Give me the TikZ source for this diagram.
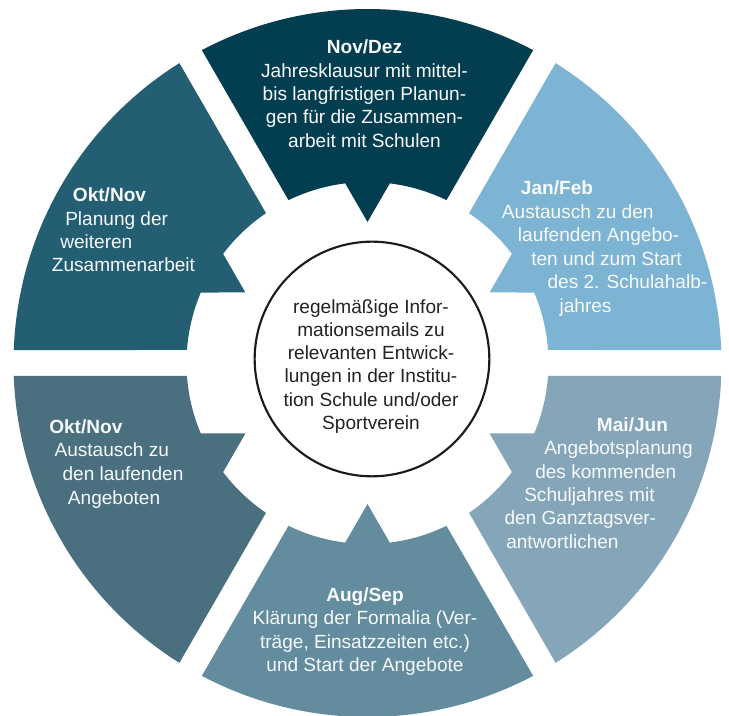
\documentclass[tikz,border=0pt]{standalone}
\usepackage{fontspec}
\setmainfont{Liberation Sans}
\definecolor{segnov}{RGB}{3, 62, 80}
\definecolor{segokta}{RGB}{36, 94, 114}
\definecolor{segoktb}{RGB}{74, 111, 127}
\definecolor{segaug}{RGB}{99, 141, 159}
\definecolor{segmai}{RGB}{133, 166, 184}
\definecolor{segjan}{RGB}{125, 180, 211}
\definecolor{ringtext}{RGB}{248, 250, 251}
\definecolor{hubline}{RGB}{28, 28, 28}
\definecolor{hubtext}{RGB}{35, 35, 35}

\begin{document}
\begin{tikzpicture}[x=0.75pt, y=0.75pt,
    segtext/.style={font=\fontsize{14.3pt}{17.5pt}\selectfont, text=ringtext, inner sep=0pt},
    segtitle/.style={segtext, font=\fontsize{14.3pt}{17.5pt}\selectfont\bfseries},
    hubtext/.style={segtext, text=hubtext}]
    \path[use as bounding box, fill=white] (-367.5,-353) rectangle (361.5,363);
    % Ring segments
    \foreach \ang/\col in {90/segnov, 30/segjan, 330/segmai, 270/segaug, 210/segoktb, 150/segokta}
        \fill[\col] (\ang-27.9:354) arc[start angle=\ang-27.9, end angle=\ang+27.9, radius=354]
            -- (\ang+25.88:181) arc[start angle=\ang+25.88, end angle=\ang+7.08, radius=181]
            -- (\ang:141) -- (\ang-7.08:181)
            arc[start angle=\ang-7.08, end angle=\ang-25.88, radius=181] -- cycle;

    % Hub
    \node[circle, draw=hubline, line width=1.6pt, minimum size=176pt, inner sep=0pt] (hub) at (4.5,4) {};
    \foreach \txt [count=\i from 0] in {regelmäßige Infor-, mationsemails zu, relevanten Entwick-, lungen in der Institu-, tion Schule und\slash oder, Sportverein}
        \node[hubtext, anchor=base] (hub-\i) at (3.5, 49.7-23.2*\i) {\txt};

    % Nov/Dez
    \node[segtitle, anchor=base] (novdez) at (-3,309) {Nov/Dez};
    \foreach \txt [count=\i from 1] in {Jahresklausur mit mittel-, bis langfristigen Planun-, gen für die Zusammen-, arbeit mit Schulen}
        \node[segtext, anchor=base] (novdez-\i) at (-3, 309-23.3*\i) {\txt};

    % Jan/Feb
    \node[segtitle, anchor=base west] (janfeb) at (153.2,168) {Jan/Feb};
    \foreach \x/\txt [count=\i from 1] in {134.2/Austausch zu den, 150.2/laufenden Angebo-, 163.5/ten und zum Start, 179.8/des 2. Schulahalb-, 191.8/jahres}
        \node[segtext, anchor=base west] (janfeb-\i) at (\x, 168-23.5*\i) {\txt};

    % Mai/Jun
    \node[segtitle, anchor=base west] (maijun) at (229.2,-68.7) {Mai/Jun};
    \foreach \x/\txt [count=\i from 1] in {176.5/Angebotsplanung, 167.5/des kommenden, 156.5/Schuljahres mit, 136.8/den Ganztagsver-, 138.5/antwortlichen}
        \node[segtext, anchor=base west] (maijun-\i) at (\x, -68.7-23.3*\i) {\txt};

    % Aug/Sep
    \node[segtitle, anchor=base] (augsep) at (-2.5,-238.7) {Aug/Sep};
    \foreach \txt [count=\i from 1] in {Klärung der Formalia (Ver-, {träge, Einsatzzeiten etc.)}, und Start der Angebote}
        \node[segtext, anchor=base] (augsep-\i) at (-2.5, -238.7-23.2*\i) {\txt};

    % Okt/Nov (lower)
    \node[segtitle, anchor=base west] (oktnovb) at (-318.5,-70.3) {Okt/Nov};
    \foreach \x/\txt [count=\i from 1] in {-313.2/Austausch zu, -305.2/den laufenden, -299.8/Angeboten}
        \node[segtext, anchor=base west] (oktnovb-\i) at (\x, -70.3-23.6*\i) {\txt};

    % Okt/Nov (upper)
    \node[segtitle, anchor=base west] (oktnova) at (-294.8,161.3) {Okt/Nov};
    \foreach \x/\txt [count=\i from 1] in {-302.5/Planung der, -307.5/weiteren, -315.8/Zusammenarbeit}
        \node[segtext, anchor=base west] (oktnova-\i) at (\x, 161.3-23.4*\i) {\txt};
\end{tikzpicture}
\end{document}
